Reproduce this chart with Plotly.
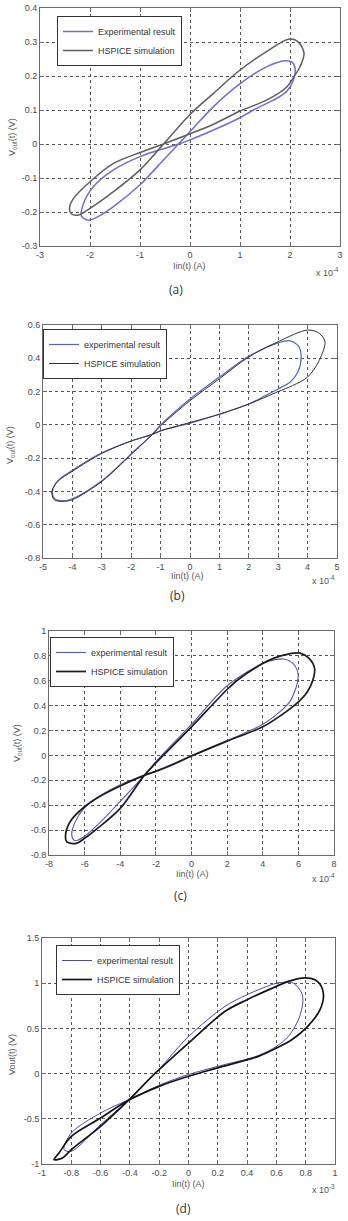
import plotly.graph_objects as go

W, H = 348, 1221

# ---------------- data (Iin in units shown on axis: x1e-4 A for a-c, x1e-3 A for d) ----------------
# Panel (a)
a_exp_x = [1.9, 2.05, 2.1, 2.07, 1.93, 1.67, 1.33, 0.97, 0.47, 0.0, -0.23, -0.6, -1.0, -1.53, -1.93, -2.13, -2.17,
           -2.03, -1.87, -1.53, -1.0, -0.53, -0.23, 0.0, 0.47, 0.97, 1.53, 1.9]
a_exp_y = [0.245, 0.24, 0.224, 0.188, 0.154, 0.129, 0.105, 0.075, 0.041, 0.012, 0.0, -0.017, -0.037, -0.076, -0.125,
           -0.175, -0.212, -0.224, -0.216, -0.184, -0.12, -0.047, 0.0, 0.036, 0.11, 0.174, 0.227, 0.245]
a_sim_x = [1.97, 2.15, 2.28, 2.2, 2.07, 1.93, 1.53, 0.97, 0.47, 0.0, -0.53, -1.0, -1.53, -2.0, -2.33, -2.41,
           -2.37, -2.23, -2.07, -1.53, -1.0, -0.53, 0.0, 0.47, 0.97, 1.53, 1.97]
a_sim_y = [0.308, 0.302, 0.268, 0.227, 0.196, 0.167, 0.129, 0.095, 0.058, 0.03, 0.0, -0.025, -0.057, -0.111,
           -0.16, -0.189, -0.206, -0.209, -0.196, -0.14, -0.076, 0.0, 0.087, 0.149, 0.214, 0.272, 0.308]

# Panel (b)
b_exp_x = [3.4, 3.7, 3.78, 3.67, 3.4, 3.0, 2.5, 2.0, 1.0, 0.0, -1.0, -1.28, -2.0, -3.0, -4.0, -4.5, -4.68, -4.6,
           -4.35, -4.0, -3.0, -2.0, -1.28, -1.0, 0.0, 1.0, 2.0, 3.0, 3.4]
b_exp_y = [0.505, 0.47, 0.408, 0.317, 0.256, 0.216, 0.17, 0.125, 0.064, 0.01, -0.036, -0.057, -0.097, -0.168,
           -0.273, -0.336, -0.4, -0.444, -0.456, -0.444, -0.336, -0.174, -0.057, -0.002, 0.155, 0.287, 0.412,
           0.493, 0.505]
b_sim_x = [4.01, 4.4, 4.59, 4.4, 4.0, 3.49, 3.0, 2.0, 1.0, 0.0, -1.0, -1.28, -2.0, -3.0, -4.0, -4.5, -4.7, -4.62,
           -4.35, -4.0, -3.0, -2.0, -1.28, -1.0, 0.0, 1.0, 2.0, 3.0, 4.01]
b_sim_y = [0.57, 0.55, 0.5, 0.388, 0.287, 0.236, 0.2, 0.125, 0.064, 0.014, -0.036, -0.057, -0.097, -0.172, -0.279,
           -0.34, -0.4, -0.45, -0.46, -0.45, -0.34, -0.178, -0.057, -0.006, 0.145, 0.277, 0.408, 0.5, 0.57]

# Panel (c)
c_exp_x = [5.2, 5.7, 5.98, 5.96, 5.88, 5.51, 4.95, 4.0, 2.0, 0.0, -1.0, -2.0, -2.65, -4.0, -5.2, -6.0, -6.55,
           -6.72, -6.55, -6.1, -5.0, -4.14, -2.65, -2.0, 0.0, 2.0, 4.0, 4.7, 5.2]
c_exp_y = [0.775, 0.74, 0.658, 0.6, 0.55, 0.43, 0.35, 0.25, 0.12, 0.0, -0.065, -0.125, -0.16, -0.235, -0.33,
           -0.42, -0.54, -0.64, -0.685, -0.66, -0.52, -0.39, -0.16, -0.05, 0.25, 0.56, 0.74, 0.77, 0.775]
c_sim_x = [6.1, 6.6, 6.91, 6.8, 6.5, 6.0, 5.3, 4.0, 2.0, 0.0, -1.0, -2.0, -2.65, -4.0, -5.16, -6.0, -6.75, -7.06,
           -7.0, -6.47, -6.0, -5.16, -4.0, -2.65, -2.0, 0.0, 2.0, 2.7, 4.0, 4.6, 5.3, 6.1]
c_sim_y = [0.822, 0.78, 0.7, 0.6, 0.51, 0.43, 0.35, 0.23, 0.115, -0.005, -0.07, -0.128, -0.16, -0.245, -0.33,
           -0.412, -0.519, -0.626, -0.695, -0.706, -0.666, -0.572, -0.425, -0.16, -0.06, 0.23, 0.53, 0.618, 0.738,
           0.78, 0.81, 0.822]

# Panel (d)  (x1e-3 A)
d_exp_x = [0.66, 0.716, 0.773, 0.78, 0.75, 0.682, 0.6, 0.477, 0.2, 0.0, -0.19, -0.41, -0.6, -0.8, -0.85, -0.8,
           -0.6, -0.41, -0.2, 0.0, 0.25, 0.4, 0.6, 0.66]
d_exp_y = [1.01, 1.0, 0.892, 0.78, 0.596, 0.412, 0.302, 0.2, 0.08, -0.01, -0.122, -0.29, -0.436, -0.657, -0.84,
           -0.86, -0.565, -0.29, 0.05, 0.41, 0.744, 0.873, 1.0, 1.01]
d_sim_x = [0.8, 0.88, 0.92, 0.898, 0.8, 0.705, 0.6, 0.477, 0.2, 0.0, -0.2, -0.41, -0.6, -0.8, -0.884, -0.918,
           -0.861, -0.8, -0.6, -0.41, -0.225, 0.0, 0.25, 0.4, 0.6, 0.682, 0.8]
d_sim_y = [1.058, 1.02, 0.892, 0.707, 0.5, 0.375, 0.283, 0.191, 0.063, -0.03, -0.141, -0.296, -0.491, -0.694,
           -0.878, -0.952, -0.934, -0.841, -0.583, -0.296, 0.007, 0.338, 0.689, 0.818, 0.965, 1.02, 1.058]

# tick values / labels
a_xticks = [-3, -2, -1, 0, 1, 2, 3]
a_yticks = [-0.3, -0.2, -0.1, 0, 0.1, 0.2, 0.3, 0.4]
a_yticklabels = ["-0.3", "-0.2", "-0.1", "0", "0.1", "0.2", "0.3", "0.4"]
b_xticks = [-5, -4, -3, -2, -1, 0, 1, 2, 3, 4, 5]
b_yticks = [-0.8, -0.6, -0.4, -0.2, 0, 0.2, 0.4, 0.6]
b_yticklabels = ["-0.8", "-0.6", "-0.4", "-0.2", "0", "0.2", "0.4", "0.6"]
c_xticks = [-8, -6, -4, -2, 0, 2, 4, 6, 8]
c_yticks = [-0.8, -0.6, -0.4, -0.2, 0, 0.2, 0.4, 0.6, 0.8, 1]
c_yticklabels = ["-0.8", "-0.6", "-0.4", "-0.2", "0", "0.2", "0.4", "0.6", "0.8", "1"]
d_xticks = [-1, -0.8, -0.6, -0.4, -0.2, 0, 0.2, 0.4, 0.6, 0.8, 1]
d_xticklabels = ["-1", "-0.8", "-0.6", "-0.4", "-0.2", "0", "0.2", "0.4", "0.6", "0.8", "1"]
d_yticks = [-1, -0.5, 0, 0.5, 1, 1.5]
d_yticklabels = ["-1", "-0.5", "0", "0.5", "1", "1.5"]

legend_a = ["Experimental result", "HSPICE simulation"]
legend_bcd = ["experimental result", "HSPICE simulation"]
captions = ["(a)", "(b)", "(c)", "(d)"]

# ---------------- layout helpers ----------------
FONT = "Liberation Sans, Arial, sans-serif"


def px_x(p):
    return p / W


def px_y(p):
    return 1 - p / H


panels = [
    dict(box=(40, 340, 8, 246), xt=a_xticks, xtl=[str(v) for v in a_xticks], yt=a_yticks, ytl=a_yticklabels,
         data=(a_exp_x, a_exp_y, a_sim_x, a_sim_y), names=legend_a,
         colors=("#6e6ed2", "#5e5e5e"), widths=(1.5, 1.5),
         leg=(57, 16), ylab=(13, 137, "V<sub>out</sub>(t) (V)"), xlab=(189, 266), exp=(327, 272, "x 10<sup>-4</sup>"),
         cap=(176, 290)),
    dict(box=(43, 337, 325, 558), xt=b_xticks, xtl=[str(v) for v in b_xticks], yt=b_yticks, ytl=b_yticklabels,
         data=(b_exp_x, b_exp_y, b_sim_x, b_sim_y), names=legend_bcd,
         colors=("#5767b6", "#333333"), widths=(1.2, 1.0),
         leg=(43, 329), ylab=(10, 445, "V<sub>out</sub>(t) (V)"), xlab=(187, 576), exp=(323, 580, "x 10<sup>-4</sup>"),
         cap=(177, 595)),
    dict(box=(49, 334, 631, 855), xt=c_xticks, xtl=[str(v) for v in c_xticks], yt=c_yticks, ytl=c_yticklabels,
         data=(c_exp_x, c_exp_y, c_sim_x, c_sim_y), names=legend_bcd,
         colors=("#5858a8", "#1c1c1c"), widths=(1.1, 1.7),
         leg=(50, 637), ylab=(17, 743, "V<sub>out</sub>(t) (V)"), xlab=(192, 874), exp=(323, 878, "x 10<sup>-4</sup>"),
         cap=(180, 895)),
    dict(box=(42, 335, 938, 1164), xt=d_xticks, xtl=d_xticklabels, yt=d_yticks, ytl=d_yticklabels,
         data=(d_exp_x, d_exp_y, d_sim_x, d_sim_y), names=legend_bcd,
         colors=("#4c4ca2", "#141414"), widths=(1.0, 1.7),
         leg=(56, 945), ylab=(12, 1055, "Vout(t) (V)"), xlab=(188, 1184), exp=(323, 1189, "x 10<sup>-3</sup>"),
         cap=(183, 1208)),
]

fig = go.Figure()
annotations = []
layout = dict(width=W, height=H, margin=dict(l=0, r=0, t=0, b=0, autoexpand=False), paper_bgcolor="white",
              plot_bgcolor="white", font=dict(family=FONT, size=9, color="#444"), showlegend=True)

for i, p in enumerate(panels):
    k = "" if i == 0 else str(i + 1)
    xa, ya = "x" + k, "y" + k
    legname = "legend" + k
    ex, ey, sx, sy = p["data"]
    fig.add_trace(go.Scatter(x=ex, y=ey, mode="lines", name=p["names"][0], xaxis=xa, yaxis=ya,
                             line=dict(color=p["colors"][0], width=p["widths"][0], shape="spline", smoothing=0.9),
                             legend=legname))
    fig.add_trace(go.Scatter(x=sx, y=sy, mode="lines", name=p["names"][1], xaxis=xa, yaxis=ya,
                             line=dict(color=p["colors"][1], width=p["widths"][1], shape="spline", smoothing=0.9),
                             legend=legname))
    l, r, t, b = p["box"]
    axcommon = dict(showline=True, linecolor="#6a6a6a", linewidth=1, mirror="ticks", ticks="inside", ticklen=4,
                    tickcolor="#6a6a6a", showgrid=True, gridcolor="#555555", griddash="dot", gridwidth=1,
                    zeroline=False, tickfont=dict(family=FONT, size=9, color="#4a4a4a"))
    layout["xaxis" + k] = dict(domain=[px_x(l), px_x(r)], anchor=ya, range=[p["xt"][0], p["xt"][-1]],
                               tickmode="array", tickvals=p["xt"], ticktext=p["xtl"], **axcommon)
    layout["yaxis" + k] = dict(domain=[px_y(b), px_y(t)], anchor=xa, range=[p["yt"][0], p["yt"][-1]],
                               tickmode="array", tickvals=p["yt"], ticktext=p["ytl"], **axcommon)
    layout[legname] = dict(x=px_x(p["leg"][0]), y=px_y(p["leg"][1]), xanchor="left", yanchor="top",
                           bgcolor="white", bordercolor="#333333", borderwidth=1, tracegroupgap=0,
                           font=dict(family=FONT, size=9, color="#333"), itemwidth=30)
    yl = p["ylab"]
    annotations.append(dict(x=px_x(yl[0]), y=px_y(yl[1]), xref="paper", yref="paper", text=yl[2], showarrow=False,
                            textangle=-90, font=dict(family=FONT, size=9, color="#555"),
                            xanchor="center", yanchor="middle"))
    annotations.append(dict(x=px_x(p["xlab"][0]), y=px_y(p["xlab"][1]), xref="paper", yref="paper",
                            text="Iin(t) (A)", showarrow=False, font=dict(family=FONT, size=9, color="#555"),
                            xanchor="center", yanchor="middle"))
    ep = p["exp"]
    annotations.append(dict(x=px_x(ep[0]), y=px_y(ep[1]), xref="paper", yref="paper", text=ep[2], showarrow=False,
                            font=dict(family=FONT, size=9, color="#555"), xanchor="center", yanchor="middle"))
    annotations.append(dict(x=px_x(p["cap"][0]), y=px_y(p["cap"][1]), xref="paper", yref="paper",
                            text=captions[i], showarrow=False, font=dict(family="Open Sans, sans-serif", size=12,
                                                                           color="#333"),
                            xanchor="center", yanchor="middle"))

layout["annotations"] = annotations
fig.update_layout(**layout)
fig.write_html("out.html", config={"displayModeBar": False},
               post_script="document.body.style.margin='0';document.body.style.overflow='hidden';")
